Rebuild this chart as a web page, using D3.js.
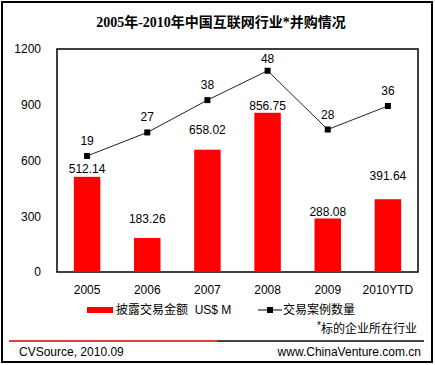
<!DOCTYPE html>
<html>
<head>
<meta charset="utf-8">
<script src="https://cdn.jsdelivr.net/npm/d3@7"></script>
<style>
  body { margin: 0; background: #fff; }
  svg text { font-family: "Liberation Sans", Arial, "Noto Sans CJK SC", sans-serif; fill: #000; }
  svg text.title { font-family: "Liberation Serif", "Times New Roman", "Noto Sans CJK SC", serif; }
</style>
</head>
<body>
<div id="chart"></div>
<script>
var years = ["2005", "2006", "2007", "2008", "2009", "2010YTD"];
var dealAmount = [512.14, 183.26, 658.02, 856.75, 288.08, 391.64];
var dealCount = [19, 27, 38, 48, 28, 36];
var yTicks = [0, 300, 600, 900, 1200];

var W = 435, H = 365;
var plot = {left: 57, top: 49, right: 418, bottom: 272};

// the bar labels in the original were nudged by hand
var barLabelLift = [8, 19, 20, 7, 6, 23];

var svg = d3.select("#chart").append("svg")
    .attr("width", W)
    .attr("height", H);

svg.append("rect")
    .attr("x", 2).attr("y", 2)
    .attr("width", 430).attr("height", 360)
    .attr("fill", "none")
    .attr("stroke", "#000")
    .attr("stroke-width", 2);

svg.append("text")
    .attr("class", "title")
    .attr("x", 221).attr("y", 27)
    .attr("text-anchor", "middle")
    .style("font-size", "14px")
    .style("font-weight", "bold")
    .text("2005年-2010年中国互联网行业*并购情况");

var x = d3.scaleBand()
    .domain(years)
    .range([plot.left, plot.right])
    .paddingInner(0.56)
    .paddingOuter(0.28);

var y = d3.scaleLinear()
    .domain([0, 1200])
    .range([plot.bottom, plot.top]);

var y2 = d3.scaleLinear()
    .domain([-20.5, 55.4])
    .range([plot.bottom, plot.top]);

var cx = function(d, i) { return x(years[i]) + x.bandwidth() / 2; };

// plot frame
svg.append("rect")
    .attr("x", plot.left).attr("y", plot.top)
    .attr("width", plot.right - plot.left)
    .attr("height", plot.bottom - plot.top)
    .attr("fill", "none")
    .attr("stroke", "#000")
    .attr("stroke-width", 1.5);

var yAxis = d3.axisLeft(y).tickValues(yTicks).tickFormat(d3.format("d")).tickSize(0).tickPadding(16);
svg.append("g")
    .attr("transform", "translate(" + plot.left + ",0)")
    .call(yAxis)
    .call(function(g) {
      g.select(".domain").remove();
      g.selectAll("text").style("font-size", "12px").attr("fill", "#000");
    });

var xAxis = d3.axisBottom(x).tickSize(0).tickPadding(13);
svg.append("g")
    .attr("transform", "translate(0," + plot.bottom + ")")
    .call(xAxis)
    .call(function(g) {
      g.select(".domain").remove();
      g.selectAll("text").style("font-size", "12px").attr("fill", "#000");
    });

svg.append("g").selectAll(".bar")
    .data(dealAmount)
  .enter().append("rect")
    .attr("class", "bar")
    .attr("x", function(d, i) { return x(years[i]); })
    .attr("width", x.bandwidth())
    .attr("y", function(d) { return y(d); })
    .attr("height", function(d) { return plot.bottom - y(d); })
    .attr("fill", "#ff0000");

svg.append("g").selectAll(".bar-label")
    .data(dealAmount)
  .enter().append("text")
    .attr("class", "bar-label")
    .attr("x", cx)
    .attr("y", function(d, i) { return y(d) - barLabelLift[i] + 4; })
    .attr("text-anchor", "middle")
    .style("font-size", "12px")
    .text(function(d) { return d3.format(".2f")(d); });

var line = d3.line()
    .x(cx)
    .y(function(d) { return y2(d); });

svg.append("path")
    .datum(dealCount)
    .attr("d", line)
    .attr("fill", "none")
    .attr("stroke", "#222")
    .attr("stroke-width", 1);

svg.append("g").selectAll(".marker")
    .data(dealCount)
  .enter().append("rect")
    .attr("class", "marker")
    .attr("x", function(d, i) { return cx(d, i) - 3; })
    .attr("y", function(d) { return y2(d) - 3; })
    .attr("width", 6).attr("height", 6)
    .attr("fill", "#000");

svg.append("g").selectAll(".count-label")
    .data(dealCount)
  .enter().append("text")
    .attr("class", "count-label")
    .attr("x", cx)
    .attr("y", function(d) { return Math.max(y2(d) - 15, plot.top + 10) + 4; })
    .attr("text-anchor", "middle")
    .style("font-size", "12px")
    .text(function(d) { return d; });

// legend
var legend = svg.append("g").attr("transform", "translate(0,310)");
legend.append("rect")
    .attr("x", 87).attr("y", -3)
    .attr("width", 26).attr("height", 6)
    .attr("fill", "#ff0000");
legend.append("text")
    .attr("x", 116).attr("y", 4)
    .style("font-size", "12px")
    .style("white-space", "pre")
    .text("披露交易金额  US$ M");
legend.append("line")
    .attr("x1", 258).attr("x2", 282)
    .attr("y1", 0).attr("y2", 0)
    .attr("stroke", "#000");
legend.append("rect")
    .attr("x", 267).attr("y", -3)
    .attr("width", 6).attr("height", 6)
    .attr("fill", "#000");
legend.append("text")
    .attr("x", 283).attr("y", 4)
    .style("font-size", "12px")
    .text("交易案例数量");

var note = svg.append("text")
    .attr("x", 417).attr("y", 333)
    .attr("text-anchor", "end")
    .style("font-size", "12px");
note.append("tspan")
    .attr("dy", -4)
    .style("font-size", "10px")
    .text("*");
note.append("tspan")
    .attr("dy", 4)
    .text("标的企业所在行业");

// footer rule
svg.append("line")
    .attr("x1", 9).attr("x2", 217)
    .attr("y1", 341).attr("y2", 341)
    .attr("stroke", "#e83c3c")
    .attr("stroke-width", 2);
svg.append("line")
    .attr("x1", 217).attr("x2", 424)
    .attr("y1", 341).attr("y2", 341)
    .attr("stroke", "#444")
    .attr("stroke-width", 2);

svg.append("text")
    .attr("x", 19).attr("y", 356)
    .style("font-size", "12px")
    .text("CVSource, 2010.09");
svg.append("text")
    .attr("x", 421).attr("y", 356)
    .attr("text-anchor", "end")
    .style("font-size", "12px")
    .text("www.ChinaVenture.com.cn");
</script>
</body>
</html>
